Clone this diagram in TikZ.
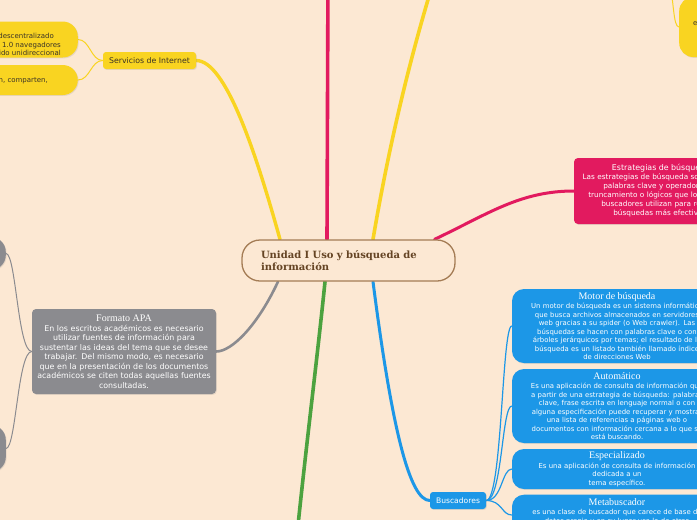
\documentclass[tikz,border=0pt]{standalone}
\usepackage{fontspec}
\setmainfont{DejaVu Sans}
\newfontfamily\titlefont{Liberation Serif}
\newfontfamily\centralfont{DejaVu Serif}
\usetikzlibrary{shadows,calc}
\definecolor{bgc}{HTML}{FCE8D3}
\definecolor{yel}{HTML}{F9D421}
\definecolor{pnk}{HTML}{E21A5F}
\definecolor{gry}{HTML}{8B8B8F}
\definecolor{grn}{HTML}{4CA23F}
\definecolor{blu}{HTML}{1C97E7}
\definecolor{cborder}{HTML}{A47C55}
\definecolor{ctext}{HTML}{654424}
\definecolor{dark}{HTML}{3A3326}
\pgfdeclarelayer{bglayer}
\pgfdeclarelayer{edges}
\pgfsetlayers{bglayer,edges,main}
\newcommand\boxtitle[2]{{\titlefont\fontsize{#2}{#2}\selectfont #1\par}}
\tikzset{
  shad/.style={drop shadow={opacity=0.18, shadow xshift=0.8pt, shadow yshift=-0.9pt}},
  central/.style={draw=cborder, line width=1.3pt, fill=bgc, rounded corners=18pt,
    minimum width=213pt, minimum height=41pt, text width=175pt, align=left,
    inner xsep=19pt, inner ysep=0pt, text=ctext,
    font=\centralfont\bfseries\fontsize{10}{12}\selectfont},
  smallbox/.style={shad, rounded corners=3pt, inner sep=0pt},
  pill/.style={shad, rounded corners=15pt, inner sep=0pt},
  bigbox/.style={shad, text=white, align=center, inner ysep=0pt},
  bluebox/.style={bigbox, fill=blu, rounded corners=12pt, text width=192pt, inner xsep=9pt,
    font=\fontsize{6.9}{8.5}\selectfont},
  trunk/.style={line cap=round},
  twig/.style={line width=1pt},
}
\begin{document}
\begin{tikzpicture}[x=1pt,y=-1pt]
\path[use as bounding box] (0,0) rectangle (697,520);
\begin{pgfonlayer}{bglayer}
\fill[bgc] (0,0) rectangle (697,520);
\end{pgfonlayer}
\clip (0,0) rectangle (697,520);

% central
\node[central] (c) at (348.5,260.5) {Unidad I Uso y búsqueda de\\información};

% yellow left
\node[smallbox, fill=yel, text=dark, minimum width=93pt, minimum height=17pt,
  font=\fontsize{7.8}{9}\selectfont] (serv) at (149.5,60.5) {Servicios de Internet};
\node[pill, fill=yel, anchor=east, minimum width=200pt, minimum height=36pt] (w1) at (78,39.5) {};
\node[anchor=east, inner sep=0pt, align=right, text=dark, font=\fontsize{7}{8.6}\selectfont] (w1t) at (61,44.7)
  {La Web 1.0 es un sistema descentralizado\hspace*{7pt}\\accesible desde los primeros Web 1.0 navegadores\hspace*{11pt}\\con un contenido unidireccional};
\node[pill, fill=yel, anchor=east, minimum width=200pt, minimum height=30pt] (w2) at (78,80) {};
\node[anchor=east, inner sep=0pt, text=dark, font=\fontsize{7}{8.6}\selectfont] (w2t) at (48,80)
  {los usuarios interactúan, se comunican, comparten,};

% top right yellow
\node[pill, fill=yel, anchor=west, minimum width=60pt, minimum height=60pt, rounded corners=14pt] (ytr) at (679,27) {};
\node[anchor=west, inner sep=0pt, text=dark, font=\fontsize{7}{8.6}\selectfont] (ytrt) at (693,23) {el};

% pink right
\node[bigbox, fill=pnk, rounded corners=4pt, text width=160pt, inner xsep=7pt, minimum height=66pt,
  font=\fontsize{7.3}{9}\selectfont] (est) at (661,191)
  {{\fontsize{7.9}{9}\selectfont Estrategias de búsqueda\par}
   Las estrategias de búsqueda son el uso de\\palabras clave y operadores de\\truncamiento o lógicos que los motores\\buscadores utilizan para realizar\\búsquedas más efectivas.};

% gray
\node[bigbox, fill=gry, rounded corners=4pt, text width=178pt, inner xsep=3pt, minimum height=85pt,
  font=\fontsize{7.9}{9.5}\selectfont] (apa) at (124,351.5)
  {\boxtitle{Formato APA}{10}\vspace{0.4pt}
   En los escritos académicos es necesario\\utilizar fuentes de información para\\sustentar las ideas del tema que se desee\\trabajar. Del mismo modo, es necesario\\que en la presentación de los documentos\\académicos se citen todas aquellas fuentes\\consultadas.};
\node[pill, fill=gry, anchor=east, minimum width=100pt, minimum height=33pt] (g1) at (6,253.5) {};
\node[pill, fill=gry, anchor=east, minimum width=100pt, minimum height=47pt] (g2) at (6,448.5) {};

% blue
\node[smallbox, fill=blu, text=white, minimum width=56pt, minimum height=17pt,
  font=\fontsize{7.6}{9}\selectfont] (busc) at (458,500.5) {Buscadores};
\node[bluebox, minimum height=74pt] (motor) at (617,326)
  {\boxtitle{Motor de búsqueda}{10}\vspace{1.2pt}
   Un motor de búsqueda es un sistema informático\\que busca archivos almacenados en servidores\\web gracias a su spider (o Web crawler). Las\\búsquedas se hacen con palabras clave o con\\árboles jerárquicos por temas; el resultado de la\\búsqueda es un listado también llamado índice\\de direcciones Web};
\node[bluebox, minimum height=74pt] (auto) at (617,406)
  {\boxtitle{Automático}{10}\vspace{1.2pt}
   Es una aplicación de consulta de información que\\a partir de una estrategia de búsqueda: palabras\\clave, frase escrita en lenguaje normal o con\\alguna especificación puede recuperar y mostrar\\una lista de referencias a páginas web o\\documentos con información cercana a lo que se\\está buscando.};
\node[bluebox, minimum height=40pt] (esp) at (617,469)
  {\boxtitle{Especializado}{10}\vspace{1.2pt}
   Es una aplicación de consulta de información\\dedicada a un\\tema específico.};
\node[bluebox, anchor=north, inner ysep=3.5pt] (meta) at (617,494.5)
  {\boxtitle{Metabuscador}{10}\vspace{1.2pt}
   es una clase de buscador que carece de base de\\datos propia y en su lugar usa la de otros\\\mbox{}};

% off-canvas ends
\coordinate (ptop) at (328,-30);
\coordinate (ytop) at (437,-30);
\coordinate (gbot) at (296,545);
\coordinate (ytc) at (668,-30);

\begin{pgfonlayer}{edges}
\draw[trunk, yel, line width=3.4pt] ($(c.north)+(-68.5,0)$) .. controls +(-25,-90) and +(29,0) .. (serv.east);
\draw[trunk, pnk, line width=3.6pt] ($(c.north)+(-21.5,0)$) -- (ptop);
\draw[trunk, yel, line width=3.6pt] ($(c.north)+(24.5,0)$) .. controls +(17,-100) and +(-25,80) .. (ytop);
\draw[trunk, pnk, line width=3pt] ($(c.north)+(86,0)$) .. controls +(53,-25) and +(-54,0) .. (est.west);
\draw[trunk, gry, line width=2.6pt] ($(c.south)+(-70.5,0)$) .. controls +(-20,43) and +(16,0) .. (apa.east);
\draw[trunk, grn, line width=3.6pt] ($(c.south)+(-23.5,0)$) .. controls +(-7,70) and +(9,-90) .. (gbot);
\draw[trunk, blu, line width=3pt] ($(c.south)+(24.5,0)$) .. controls +(19,148) and +(-20,0) .. (busc.west);

\draw[twig, yel] (serv.west) .. controls +(-12,0) and +(12,0) .. (w1.east);
\draw[twig, yel] (serv.west) .. controls +(-12,0) and +(12,0) .. (w2.east);
\draw[twig, yel] (ytc) .. controls +(6,30) and +(-6,0) .. (ytr.west);
\draw[twig, gry] (apa.west) .. controls +(-14,0) and +(10,0) .. (g1.east);
\draw[twig, gry] (apa.west) .. controls +(-14,0) and +(10,0) .. (g2.east);
\draw[twig, blu, line width=1.2pt] (busc.east) .. controls +(16,0) and +(-10,0) .. (motor.west);
\draw[twig, blu, line width=1.2pt] (busc.east) .. controls +(16,0) and +(-10,0) .. (auto.west);
\draw[twig, blu, line width=1.2pt] (busc.east) .. controls +(16,0) and +(-10,0) .. (esp.west);
\draw[twig, blu, line width=1.2pt] (busc.east) .. controls +(16,0) and +(-10,0) .. (meta.west);
\end{pgfonlayer}
\end{tikzpicture}
\end{document}
